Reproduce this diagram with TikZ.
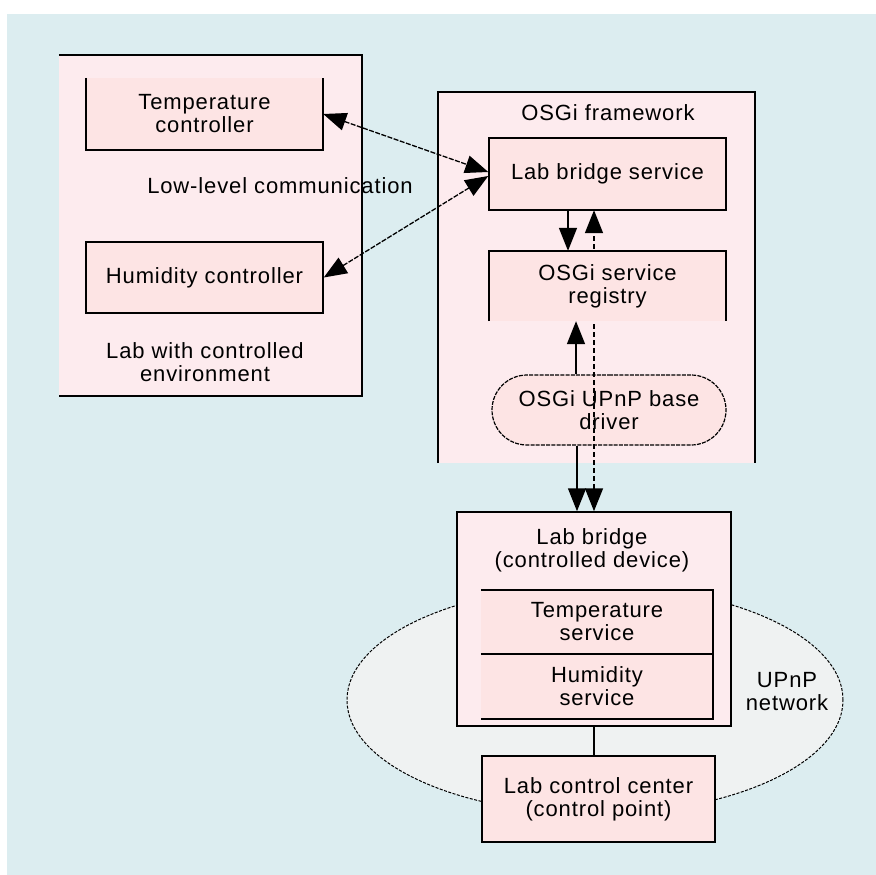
\documentclass[tikz,border=0pt]{standalone}
\usepackage{fontspec}
\setmainfont[LetterSpace=4]{Liberation Sans}
\usetikzlibrary{arrows.meta,shapes.misc,shapes.geometric}
\definecolor{bgblue}{HTML}{DCEDF0}
\definecolor{regionpink}{HTML}{FDEBEE}
\definecolor{boxpink}{HTML}{FDE4E4}
\definecolor{netgrey}{HTML}{EFF2F2}
\tikzset{
  lbl/.style={font=\fontsize{22}{23}\selectfont, align=center, inner sep=0pt},
  region/.style={fill=regionpink, draw=none, inner sep=0pt},
  pinkbox/.style={fill=boxpink, draw=none, inner sep=0pt, font=\fontsize{22}{23}\selectfont, align=center},
  edge/.style={line width=1.5pt},
  tip/.style={-{Triangle[length=23pt,width=18pt]}},
  tips/.style={{Triangle[length=23pt,width=18pt]}-{Triangle[length=23pt,width=18pt]}},
  finedash/.style={dash pattern=on 5pt off 1.5pt},
}
\begin{document}
\begin{tikzpicture}[x=1pt,y=-1pt]
\useasboundingbox (0,0) rectangle (876,875);
\fill[bgblue] (7,14) rectangle (876,875);

% Lab with controlled environment
\node[region, minimum width=303pt, minimum height=341pt] (lab) at (210.5,225.5) {};
\draw[edge] (lab.north west) -- (lab.north east) -- (lab.south east) -- (lab.south west);
\node[pinkbox, minimum width=237pt, minimum height=72pt] (tc) at (204.5,114) {Temperature\\controller};
\draw[edge] (tc.north west) -- (tc.south west) -- (tc.south east) -- (tc.north east);
\node[pinkbox, draw, line width=1.5pt, minimum width=237pt, minimum height=71pt] (hc) at (204.5,277.5) {Humidity controller};
\node[lbl] (llc) at (280,186) {Low-level communication};
\node[lbl] (labtxt) at (205,362) {Lab with controlled\\environment};

% OSGi framework
\node[region, minimum width=317pt, minimum height=371pt] (osgi) at (596.5,277.5) {};
\draw[edge] (osgi.south west) -- (osgi.north west) -- (osgi.north east) -- (osgi.south east);
\node[lbl] (osgitxt) at (608,113) {OSGi framework};

% UPnP network
\node[ellipse, fill=netgrey, draw, line width=1pt, dash pattern=on 3pt off 1.5pt,
      minimum width=496pt, minimum height=228pt, inner sep=0pt] (net) at (595,700) {};
\node[lbl] (nettxt) at (787,692) {UPnP\\network};

% base driver, then the dashed link running over it
\node[pinkbox, rounded rectangle, draw, line width=1.2pt, dash pattern=on 4pt off 1.2pt,
      minimum width=234pt, minimum height=70pt] (drv) at (609,410) {OSGi UPnP base\\driver};

\node[region, draw, line width=1.5pt, minimum width=274pt, minimum height=214pt] (dev) at (594,619) {};
\node[lbl] (devtxt) at (592,550) {Lab bridge\\(controlled device)};

\node[pinkbox, minimum width=237pt, minimum height=72pt] (lbs) at (607.5,174) {};
\draw[edge, dash pattern=on 5pt off 3pt, tips] (dev.north) -- (dev.north |- lbs.south);

\node[pinkbox, minimum width=237pt, minimum height=70pt] (reg) at (607.5,286) {OSGi service\\registry};
\draw[edge] (reg.south west) -- (reg.north west) -- (reg.north east) -- (reg.south east);
\node[pinkbox, draw, line width=1.5pt, minimum width=237pt, minimum height=72pt] (lbs) at (607.5,174) {Lab bridge service};

% services inside the lab bridge
\node[pinkbox, minimum width=232pt, minimum height=64pt] (ts) at (597,622) {Temperature\\service};
\node[pinkbox, minimum width=232pt, minimum height=65pt] (hs) at (597,686.5) {Humidity\\service};
\draw[edge] (ts.north west) -- (ts.north east) -- (hs.south east) -- (hs.south west);
\draw[edge] (ts.south west) -- (ts.south east);

% control point
\node[pinkbox, draw, line width=1.5pt, minimum width=233pt, minimum height=86pt] (cc) at (598.5,799) {Lab control center\\(control point)};

% connectors
\coordinate (a1) at ([xshift=-39.5pt]lbs.south);
\draw[edge, tip] (a1) -- (a1 |- reg.north);
\coordinate (a2) at ([xshift=-33pt]drv.north);
\draw[edge, tip] (a2) -- (a2 |- reg.south);
\coordinate (a3) at ([xshift=-32pt]drv.south);
\draw[edge, tip] (a3) -- (a3 |- dev.north);
\draw[edge] (dev.south) -- (dev.south |- cc.north);

\draw[line width=1.3pt, finedash, tips] (tc.east) -- ([yshift=2pt]lbs.west);
\draw[line width=1.3pt, finedash, tips] (hc.east) -- ([yshift=-2pt]lbs.west);
\end{tikzpicture}
\end{document}
